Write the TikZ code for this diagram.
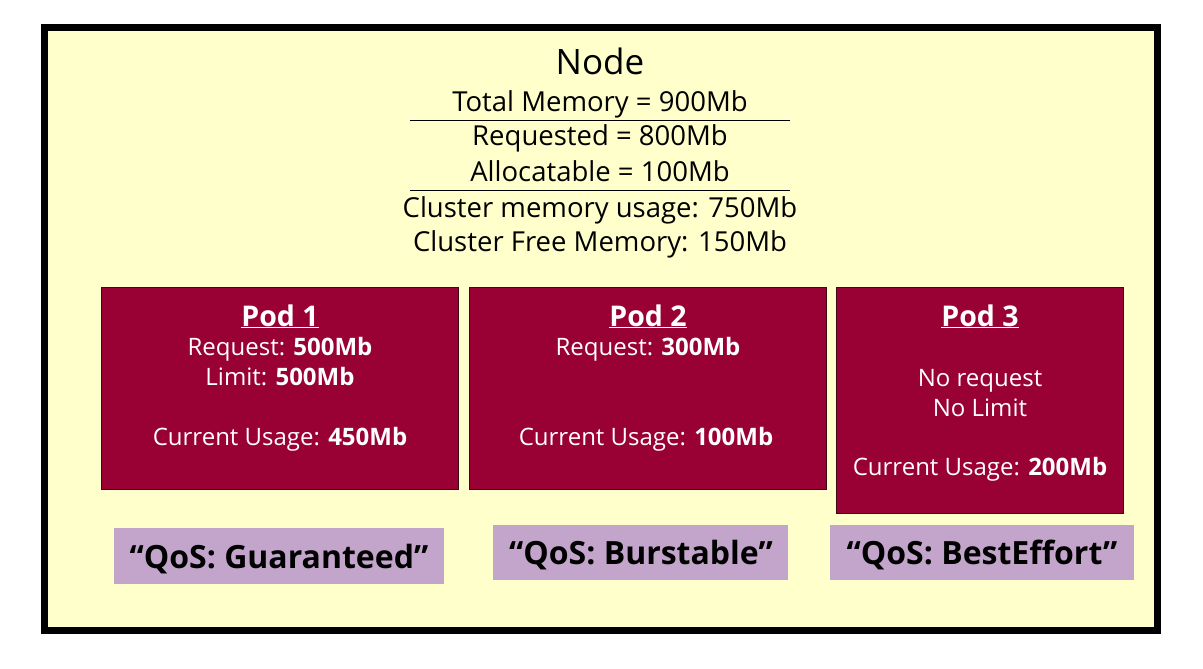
\documentclass[tikz,border=0pt]{standalone}
\usepackage{fontspec}
\setmainfont{Open Sans}
\definecolor{bgyellow}{HTML}{FFFFCC}
\definecolor{podred}{HTML}{990033}
\definecolor{podedge}{HTML}{3A0A14}
\definecolor{qoslav}{HTML}{C3A5CB}
\tikzset{
  txt/.style={inner sep=0pt, anchor=base, font=\fontsize{27.5}{32}\selectfont},
  title/.style={inner sep=0pt, anchor=base, font=\fontsize{35}{40}\selectfont},
  podbox/.style={draw=podedge, line width=1pt, fill=podred, inner sep=0pt},
  podtxt/.style={inner sep=0pt, anchor=base, text=white, font=\fontsize{24}{28}\selectfont},
  podtitle/.style={inner sep=0pt, anchor=base, text=white, font=\fontsize{28.5}{32}\selectfont\bfseries},
  qosbox/.style={fill=qoslav, inner sep=0pt},
  qostxt/.style={inner sep=0pt, anchor=base, font=\fontsize{32}{36}\selectfont\bfseries},
  sep/.style={line width=1pt, draw=black}
}
\newcommand{\ul}[1]{\underline{#1}}
\begin{document}
\begin{tikzpicture}[x=1pt,y=-1pt]
\useasboundingbox (0,0) rectangle (1203,669);
% outer node box
\node[draw=black, line width=7pt, fill=bgyellow, minimum width=1113pt, minimum height=602pt, inner sep=0pt] (outer) at (600.5,329) {};
% header text
\node[title] (nodetitle) at (600,75) {Node};
\node[txt] (total) at (600,111) {Total Memory = 900Mb};
\coordinate (s1l) at (410,120);
\coordinate (s1r) at (790,120);
\draw[sep] (s1l) -- (s1r);
\node[txt] (req) at (600,146) {Requested = 800Mb};
\node[txt] (alloc) at (600,181) {Allocatable = 100Mb};
\coordinate (s2l) at (410,190);
\coordinate (s2r) at (790,190);
\draw[sep] (s2l) -- (s2r);
\node[txt] (usage) at (600,217) {Cluster memory usage: 750Mb};
\node[txt] (free) at (600,251) {Cluster Free Memory: 150Mb};
% pods
\node[podbox, minimum width=357pt, minimum height=202pt] (pod1) at (279.5,388) {};
\node[podbox, minimum width=357pt, minimum height=202pt] (pod2) at (647.5,388) {};
\node[podbox, minimum width=287pt, minimum height=226pt] (pod3) at (979.5,400) {};
% pod 1 text
\node[podtitle] (p1t) at (280,326) {\ul{Pod 1}};
\node[podtxt] (p1r) at (280,355) {Request: \textbf{500Mb}};
\node[podtxt] (p1l) at (280,385) {Limit: \textbf{500Mb}};
\node[podtxt] (p1u) at (280,445) {Current Usage: \textbf{450Mb}};
% pod 2 text
\node[podtitle] (p2t) at (648,326) {\ul{Pod 2}};
\node[podtxt] (p2r) at (648,355) {Request: \textbf{300Mb}};
\node[podtxt] (p2u) at (646,445) {Current Usage: \textbf{100Mb}};
% pod 3 text
\node[podtitle] (p3t) at (980,326) {\ul{Pod 3}};
\node[podtxt] (p3r) at (980,386) {No request};
\node[podtxt] (p3l) at (980,416) {No Limit};
\node[podtxt] (p3u) at (980,475) {Current Usage: \textbf{200Mb}};
% QoS labels
\node[qosbox, minimum width=330pt, minimum height=56pt] (q1) at (279,556) {};
\node[qostxt] (q1t) at (279,568) {“QoS: Guaranteed”};
\node[qosbox, minimum width=295pt, minimum height=55pt] (q2) at (640.5,552.5) {};
\node[qostxt] (q2t) at (641,564) {“QoS: Burstable”};
\node[qosbox, minimum width=304pt, minimum height=55pt] (q3) at (982,552.5) {};
\node[qostxt] (q3t) at (982,564) {“QoS: BestEffort”};
\end{tikzpicture}
\end{document}
